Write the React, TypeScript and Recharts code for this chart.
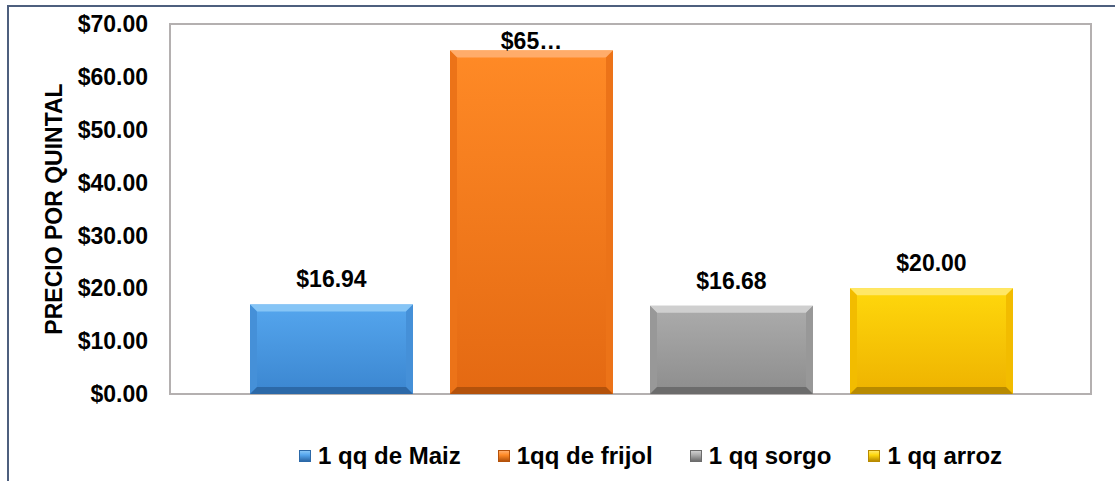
import React from 'react'
import { BarChart, Bar, XAxis, YAxis, Legend, LabelList, Label, ReferenceArea } from 'recharts'

// series shown as separate bars (one per product)
const SERIES_KEYS = ['maiz', 'frijol', 'sorgo', 'arroz']
const SERIES_NAMES = ['1 qq de Maiz', '1qq de frijol', '1 qq sorgo', '1 qq arroz']
const SERIES_VALUES = [16.94, 65, 16.68, 20]
const Y_TICKS = [0, 10, 20, 30, 40, 50, 60, 70]
const Y_TITLE = 'PRECIO POR QUINTAL'

const FONT = 'Arial, "Liberation Sans", sans-serif'
const PLOT_TOP = 24

// face gradient + bevel edges, roughly Excel's "bevel" bar effect
const PALETTES = [
  { faceTop: '#55a6ee', faceBottom: '#3b86d0', top: '#86c5f6', side: '#4590d8', bottom: '#2c69a8' },
  { faceTop: '#ff8a26', faceBottom: '#e46912', top: '#ffac6a', side: '#ec7318', bottom: '#b4520b' },
  { faceTop: '#acacac', faceBottom: '#8d8d8d', top: '#cfcfcf', side: '#989898', bottom: '#6c6c6c' },
  { faceTop: '#ffd80c', faceBottom: '#eeb200', top: '#ffe766', side: '#f2bc00', bottom: '#b88a00' },
]

const row: Record<string, string | number> = { name: 'precio' }
SERIES_KEYS.forEach((k, i) => {
  row[k] = SERIES_VALUES[i]
})
const data = [row]

const money = (v: number) => `$${v.toFixed(2)}`

function BevelBar(props: any) {
  const { x, y, width, height, idx } = props
  const p = PALETTES[idx]
  const b = Math.min(7, width / 4, height / 4)
  const gid = `face-${idx}`
  return (
    <g>
      <defs>
        <linearGradient id={gid} x1="0" y1="0" x2="0" y2="1">
          <stop offset="0%" stopColor={p.faceTop} />
          <stop offset="100%" stopColor={p.faceBottom} />
        </linearGradient>
      </defs>
      <rect x={x} y={y} width={width} height={height} fill={`url(#${gid})`} />
      <polygon
        points={`${x},${y} ${x + width},${y} ${x + width - b},${y + b} ${x + b},${y + b}`}
        fill={p.top}
      />
      <polygon
        points={`${x},${y} ${x + b},${y + b} ${x + b},${y + height - b} ${x},${y + height}`}
        fill={p.side}
      />
      <polygon
        points={`${x + width},${y} ${x + width},${y + height} ${x + width - b},${y + height - b} ${x + width - b},${y + b}`}
        fill={p.side}
      />
      <polygon
        points={`${x},${y + height} ${x + b},${y + height - b} ${x + width - b},${y + height - b} ${x + width},${y + height}`}
        fill={p.bottom}
      />
    </g>
  )
}

// value label above the bar; pushed down and shortened when it would leave the plot
function renderValueLabel(props: any) {
  const { x, y, width, value } = props
  const fontSize = 23
  let ty = y - 17
  let text = money(Number(value))
  if (ty - fontSize < PLOT_TOP) {
    ty = PLOT_TOP + 25
    text = `$${Math.floor(Number(value))}…`
  }
  return (
    <text
      x={x + width / 2}
      y={ty}
      textAnchor="middle"
      fontFamily={FONT}
      fontWeight="bold"
      fontSize={fontSize}
      fill="#000"
    >
      {text}
    </text>
  )
}

function renderYTitle(props: any) {
  const { viewBox } = props
  const cx = viewBox.x + 54
  const cy = viewBox.y + viewBox.height / 2
  return (
    <text
      x={cx}
      y={cy}
      transform={`rotate(-90, ${cx}, ${cy})`}
      textAnchor="middle"
      dominantBaseline="central"
      fontFamily={FONT}
      fontWeight="bold"
      fontSize={23}
      fill="#000"
    >
      {Y_TITLE}
    </text>
  )
}

function renderLegend() {
  return (
    <div
      style={{
        height: 87,
        boxSizing: 'border-box',
        paddingTop: 37,
        paddingLeft: 299,
        display: 'flex',
        alignItems: 'center',
        fontFamily: FONT,
        fontWeight: 'bold',
        fontSize: 24,
        lineHeight: '24px',
        color: '#000',
      }}
    >
      {SERIES_NAMES.map((name, i) => (
        <div key={name} style={{ display: 'flex', alignItems: 'center', marginRight: 37 }}>
          <span
            style={{
              display: 'inline-block',
              width: 12,
              height: 12,
              marginRight: 7,
              boxSizing: 'border-box',
              background: `linear-gradient(${PALETTES[i].top}, ${PALETTES[i].faceTop} 40%, ${PALETTES[i].bottom})`,
              border: `1px solid ${PALETTES[i].bottom}`,
            }}
          />
          <span style={{ whiteSpace: 'nowrap' }}>{name}</span>
        </div>
      ))}
    </div>
  )
}

export default function App() {
  return (
    <div
      style={{
        position: 'absolute',
        left: 0,
        top: 0,
        width: 1115,
        height: 481,
        overflow: 'hidden',
        background: '#fff',
      }}
    >
      <div
        style={{
          position: 'absolute',
          left: 7,
          top: 5,
          width: 1200,
          height: 600,
          borderLeft: '2px solid #4d5f7e',
          borderTop: '2px solid #4d5f7e',
        }}
      />
      <div style={{ position: 'absolute', left: 0, top: 0 }}>
        <BarChart
          width={1115}
          height={481}
          data={data}
          margin={{ top: PLOT_TOP, right: 24, bottom: 0, left: 0 }}
          barCategoryGap={80}
          barGap={37}
        >
          <XAxis dataKey="name" hide />
          <YAxis
            width={170}
            domain={[0, 70]}
            ticks={Y_TICKS}
            interval={0}
            axisLine={false}
            tickLine={false}
            tickMargin={16}
            tickFormatter={money}
            tick={{ fontFamily: FONT, fontWeight: 'bold', fontSize: 23, fill: '#000' }}
          >
            <Label content={renderYTitle} />
          </YAxis>
          <ReferenceArea y1={0} y2={70} fill="none" stroke="#b4b0b0" strokeWidth={2} />
          {SERIES_KEYS.map((k, i) => (
            <Bar
              key={k}
              dataKey={k}
              name={SERIES_NAMES[i]}
              fill={PALETTES[i].faceTop}
              isAnimationActive={false}
              shape={(p: any) => <BevelBar {...p} idx={i} />}
            >
              <LabelList dataKey={k} content={renderValueLabel} />
            </Bar>
          ))}
          <Legend verticalAlign="bottom" content={renderLegend} wrapperStyle={{ left: 0, width: 1115 }} />
        </BarChart>
      </div>
    </div>
  )
}
